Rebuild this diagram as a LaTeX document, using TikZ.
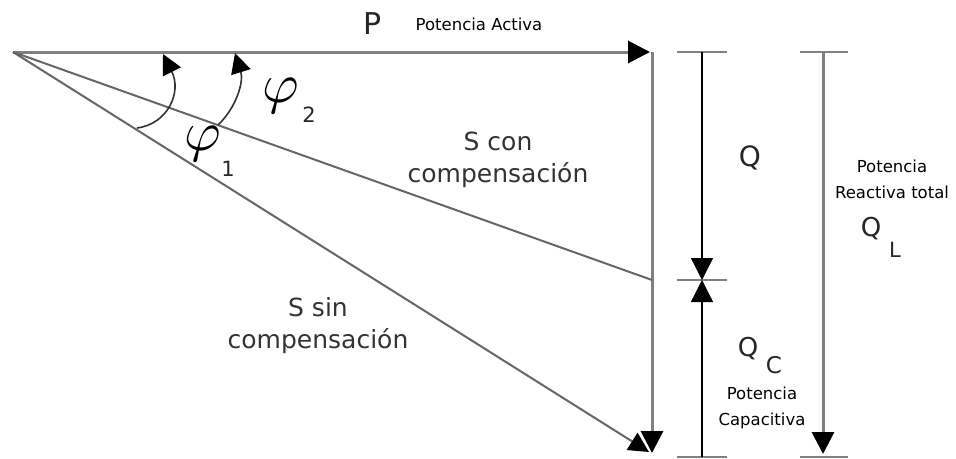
\documentclass[tikz,border=0pt]{standalone}
\usepackage{fontspec}
\setmainfont{DejaVu Sans}
\usetikzlibrary{arrows.meta}
\begin{document}
\begin{tikzpicture}[x=1pt,y=-1pt,
  mainline/.style={draw=black!50,line width=3pt},
  sline/.style={draw=black!60,line width=2pt},
  dimline/.style={draw=black,line width=1.3pt},
  tickline/.style={draw=black!50,line width=2.6pt},
  arcline/.style={draw=black!80,line width=1.6pt},
  tip/.style={-{Triangle[length=22pt,width=22pt,color=black]}},
  smalltip/.style={-{Triangle[length=20pt,width=20pt,color=black]}},
  big/.style={inner sep=0pt,text=black!85,font=\fontsize{25}{30}\selectfont},
  sub/.style={inner sep=0pt,text=black!85,font=\fontsize{21}{25}\selectfont},
  slabel/.style={inner sep=0pt,align=center,text=black!80,font=\fontsize{25}{32}\selectfont},
  small/.style={inner sep=0pt,align=center,font=\fontsize{16.5}{25.5}\selectfont},
  philabel/.style={inner sep=0pt,scale=5.6}]
\useasboundingbox[fill=white] (0,0) rectangle (956,458);

% key points
\coordinate (O) at (13,52);
\coordinate (Ptip) at (650,52);
\coordinate (Vtop) at (652,52);
\coordinate (Ccon) at (652,280);
\coordinate (Vbot) at (652,453);
\coordinate (Ssin) at (649,452);

% main vectors
\draw[mainline,tip] (O) -- (Ptip);
\draw[mainline,tip] (Vtop) -- (Vbot);
\draw[sline] (O) -- (Ccon);
\draw[sline,smalltip] (O) -- (Ssin);

% angle arcs
\coordinate (a1s) at (137,128);
\coordinate (a1e) at (163,54);
\coordinate (a2s) at (218,125);
\coordinate (a2e) at (235,53);
\draw[arcline,-{Triangle[length=20pt,width=20pt,color=black]}] (a1s) .. controls (168,124) and (182,92) .. (a1e);
\draw[arcline,-{Triangle[length=20pt,width=20pt,color=black]}] (a2s) .. controls (236,108) and (244,82) .. (a2e);

% Q dimension
\coordinate (qt1) at (677,52);  \coordinate (qt2) at (727,52);
\coordinate (qm1) at (677,280); \coordinate (qm2) at (727,280);
\coordinate (qb1) at (677,457); \coordinate (qb2) at (727,457);
\coordinate (qtop) at (702,52);
\coordinate (qmid) at (702,280);
\coordinate (qbot) at (702,457);
\draw[tickline] (qt1) -- (qt2);
\draw[tickline] (qm1) -- (qm2);
\draw[tickline] (qb1) -- (qb2);
\draw[dimline,tip] (qtop) -- (qmid);
\draw[dimline,tip] (qbot) -- (qmid);

% QL dimension
\coordinate (lt1) at (800,52); \coordinate (lt2) at (848,52);
\coordinate (lb1) at (800,457); \coordinate (lb2) at (848,457);
\coordinate (ltop) at (823,52);
\coordinate (lbot) at (823,454);
\draw[tickline] (lt1) -- (lt2);
\draw[tickline] (lb1) -- (lb2);
\draw[mainline,tip] (ltop) -- (lbot);

% labels
\node[big,font=\fontsize{30}{34}\selectfont] (P) at (373,24) {P};
\node[small,anchor=north] (pact) at (479,18) {Potencia Activa};
\node[philabel] (phi2) at (281,96) {$\varphi$};
\node[sub] (phi2s) at (309,115) {2};
\node[philabel] (phi1) at (203,144) {$\varphi$};
\node[sub] (phi1s) at (228,169) {1};
\node[slabel,anchor=north] (scon) at (498,132) {S con\\compensación};
\node[slabel,anchor=north] (ssin) at (318,297) {S sin\\compensación};
\node[big,font=\fontsize{28}{30}\selectfont] (Q) at (750,158) {Q};
\node[big,font=\fontsize{26}{30}\selectfont] (QC) at (748,349) {Q};
\node[sub,font=\fontsize{23}{25}\selectfont] (QCs) at (774,365) {C};
\node[small,anchor=north] (pcap) at (762,387) {Potencia\\Capacitiva};
\node[small,anchor=north] (preac) at (892,160) {Potencia\\Reactiva total};
\node[big,font=\fontsize{26}{30}\selectfont] (QL) at (871,229) {Q};
\node[sub,font=\fontsize{21}{24}\selectfont] (QLs) at (895,250) {L};
\end{tikzpicture}
\end{document}
